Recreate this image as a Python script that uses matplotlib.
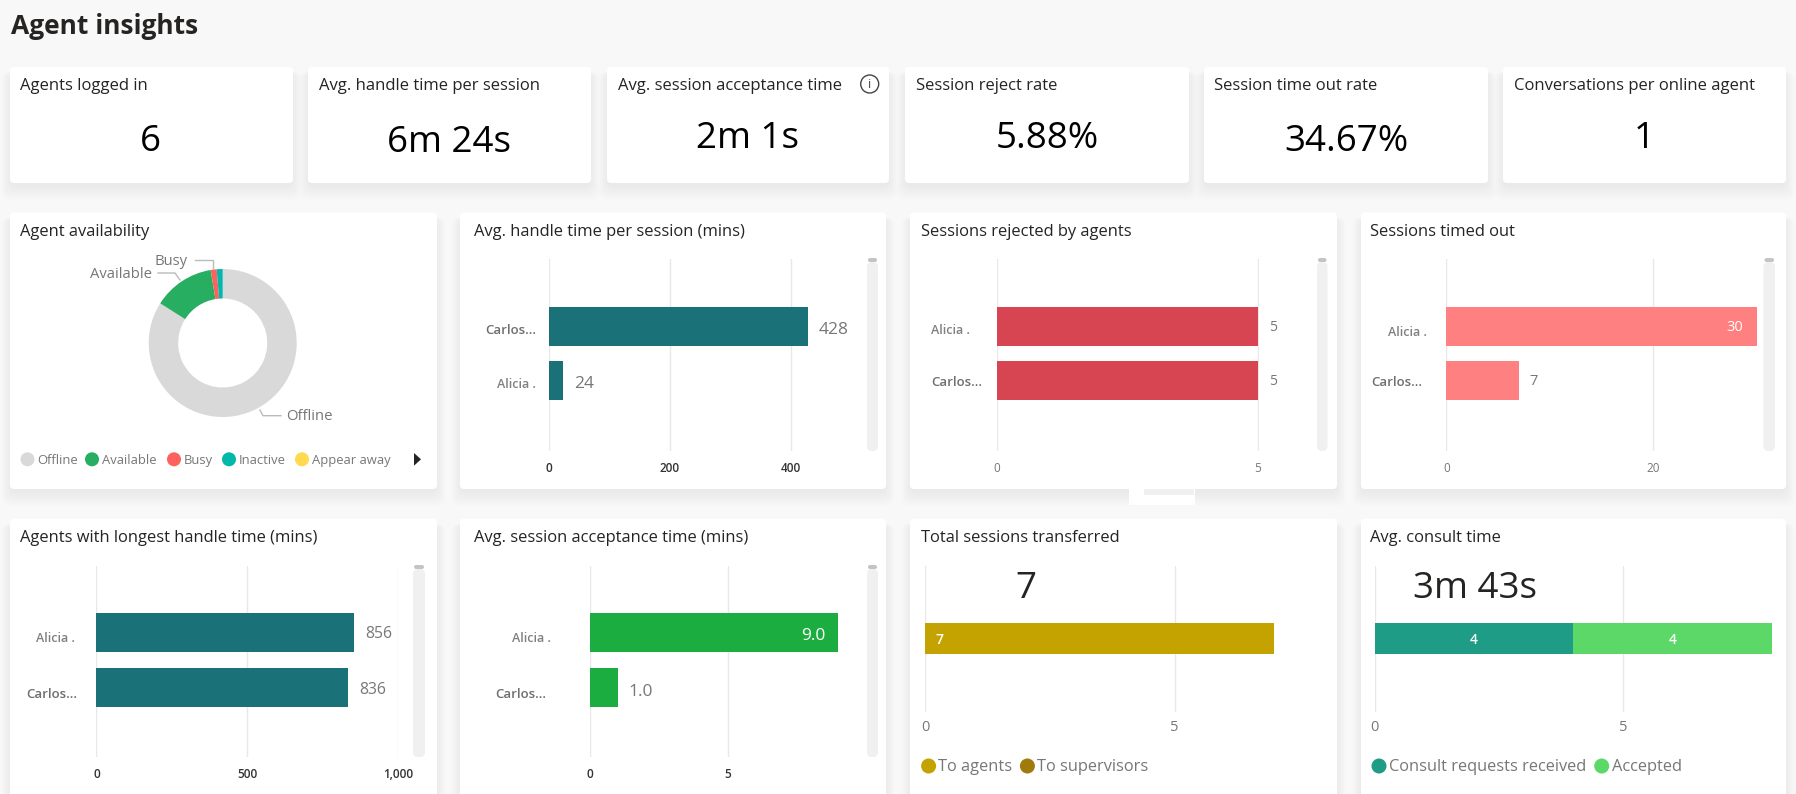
import matplotlib
matplotlib.use("Agg")
import matplotlib.pyplot as plt
from matplotlib.patches import FancyBboxPatch, Circle, Rectangle, Polygon
from matplotlib.transforms import ScaledTranslation

W, H = 1796, 794
plt.rcParams['font.family'] = ['Open Sans', 'DejaVu Sans']

# ---- data ----
kpi_titles = ["Agents logged in", "Avg. handle time per session", "Avg. session acceptance time",
              "Session reject rate", "Session time out rate", "Conversations per online agent"]
kpi_values = ["6", "6m 24s", "2m 1s", "5.88%", "34.67%", "1"]

availability_labels = ["Offline", "Available", "Busy", "Inactive", "Appear away"]
availability_values = [84.0, 13.4, 1.3, 1.3, 0.0]

handle_cats = ["Carlos...", "Alicia ."]
handle_vals = [428, 24]
handle_ticks = [0, 200, 400]

rejected_cats = ["Alicia .", "Carlos..."]
rejected_vals = [5, 5]
rejected_ticks = [0, 5]

timedout_cats = ["Alicia .", "Carlos..."]
timedout_vals = [30, 7]
timedout_ticks = [0, 20]

longest_cats = ["Alicia .", "Carlos..."]
longest_vals = [856, 836]
longest_ticks = [0, 500, 1000]

accept_cats = ["Alicia .", "Carlos..."]
accept_vals = [9.0, 1.0]
accept_ticks = [0, 5]

transfer_labels = ["To agents", "To supervisors"]
transfer_vals = [7, 0]
consult_labels = ["Consult requests received", "Accepted"]
consult_vals = [4, 4]
stack_ticks = [0, 5]

# ---- colours ----
BG = "#F8F8F8"
TEAL = "#1A7278"
RED = "#D84552"
SALMON = "#FF8080"
GREEN = "#1CAD41"
DONUT = ["#D9D9D9", "#27AE60", "#FD625E", "#01B8AA", "#FFD94F"]
GOLD = ["#C4A300", "#A07A0B"]
CONS = ["#1F9C85", "#5CD868"]
GRID = "#E8E8E8"
GREY = "#777777"
DARK = "#252423"

fig = plt.figure(figsize=(W / 100, H / 100), dpi=100, facecolor=BG)
bg = fig.add_axes([0, 0, 1, 1], zorder=0)
bg.set_xlim(0, W)
bg.set_ylim(H, 0)
bg.axis("off")


def px_axes(x0, x1, y0, y1, z=2):
    a = fig.add_axes([x0 / W, 1 - y1 / H, (x1 - x0) / W, (y1 - y0) / H], zorder=z)
    a.patch.set_alpha(0)
    return a


def card(x0, y0, x1, y1):
    for i in range(14, 0, -1):
        bg.add_patch(FancyBboxPatch((x0 - i * 0.7 + 1, y0 + 5), x1 - x0 + 1.4 * i - 2, y1 - y0 + i - 2, lw=0,
                                    fc="black", alpha=.0028,
                                    boxstyle="round,pad=0,rounding_size=8", zorder=1))
    bg.add_patch(FancyBboxPatch((x0, y0), x1 - x0, y1 - y0, lw=0, fc="white",
                                boxstyle="round,pad=0,rounding_size=4", zorder=2))


def scrollbar(x0, x1, y0, y1):
    bg.add_patch(FancyBboxPatch((x0, y0 + 3), x1 - x0, y1 - y0 - 3, lw=0, fc="#F0F0F0",
                                boxstyle="round,pad=0,rounding_size=5", zorder=3))
    bg.add_patch(FancyBboxPatch((x0 + 1, y0 - 1), x1 - x0 - 2, 4, lw=0, fc="#C4C4C4",
                                boxstyle="round,pad=0,rounding_size=2", zorder=4))


def bar_panel(x0, pxu, xmax, y0, y1, ystep, yfirst, cats, vals, color, ticks, fmt="{:,}",
              inside=(), tick_color=GREY, tick_bold=False, value_fs=11, value_dy=2,
              label_off=(14, 14), label_dy=(2, 2)):
    a = px_axes(x0, x0 + pxu * xmax, y0, y1)
    a.set_xlim(0, xmax)
    a.set_ylim((y1 - yfirst) / ystep, (y0 - yfirst) / ystep)
    ypos = list(range(len(cats)))
    bars = a.barh(ypos, vals, height=39 / ystep, color=color, zorder=3)
    a.set_xticks(ticks)
    a.set_xticklabels([f"{t:,}" for t in ticks], fontsize=8.5, color=tick_color,
                      fontweight="semibold" if tick_bold else "normal")
    a.tick_params(axis="x", length=0, pad=8)
    a.set_yticks(ypos)
    a.set_yticklabels(cats, fontsize=8)
    a.tick_params(axis="y", length=0)
    for tick, cat, off, dy in zip(a.yaxis.get_major_ticks(), cats, label_off, label_dy):
        tick.set_pad(off * 0.72)
        lab = tick.label1
        if cat.startswith("Carlos"):
            lab.set(fontsize=9.5, fontweight="semibold", color="#6E6E6E")
        else:
            lab.set(fontsize=9, fontweight="semibold", color="#808080")
        lab.set_transform(lab.get_transform() + ScaledTranslation(0, -dy / 100, fig.dpi_scale_trans))
    a.grid(axis="x", color=GRID, lw=1, zorder=0)
    a.set_axisbelow(True)
    for s in a.spines.values():
        s.set_visible(False)
    for i, (b, v) in enumerate(zip(bars, vals)):
        txt = fmt.format(v)
        if i in inside:
            a.annotate(txt, (v, i), xytext=(-13, -value_dy), textcoords="offset pixels", ha="right", va="center",
                       color="white", fontsize=value_fs)
        else:
            a.annotate(txt, (v, i), xytext=(11, -value_dy), textcoords="offset pixels", ha="left", va="center",
                       color=GREY, fontsize=value_fs)
    return a


def stack_panel(x0, pxu, xmax, y0, y1, bar_y0, bar_y1, vals, colors, ticks, inline_center):
    a = px_axes(x0, x0 + pxu * xmax, y0, y1)
    a.set_xlim(0, xmax)
    a.set_ylim(y1, y0)
    left = 0
    for v, c in zip(vals, colors):
        if v == 0:
            continue
        a.barh((bar_y0 + bar_y1) / 2, v, left=left, height=bar_y1 - bar_y0, color=c, zorder=3)
        if inline_center:
            a.text(left + v / 2, (bar_y0 + bar_y1) / 2 + 1, str(v), color="white", ha="center", va="center",
                   fontsize=10, fontweight="semibold", zorder=4)
        else:
            a.annotate(str(v), (left, (bar_y0 + bar_y1) / 2 + 1), xytext=(11, 0), textcoords="offset pixels",
                       color="white", ha="left", va="center", fontsize=10, fontweight="semibold", zorder=4)
        left += v
    a.set_xticks(ticks)
    a.set_xticklabels([str(t) for t in ticks], fontsize=10.5, color=GREY)
    a.tick_params(axis="x", length=0, pad=6)
    a.set_yticks([])
    a.grid(axis="x", color=GRID, lw=1, zorder=0)
    a.set_axisbelow(True)
    for s in a.spines.values():
        s.set_visible(False)
    return a


def legend_row(dot_xs, text_xs, y, labels, colors, fs, r):
    for dx, tx, lab, c in zip(dot_xs, text_xs, labels, colors):
        bg.add_patch(Circle((dx, y), r, fc=c, lw=0, zorder=4))
        bg.text(tx, y + 1, lab, color=GREY, fontsize=fs, ha="left", va="center", zorder=5)


# ---- title ----
bg.text(11, 26, "Agent insights", fontsize=19, fontweight="bold", color=DARK, ha="left", va="center")

# ---- KPI cards ----
kpi_x = [(10, 293), (308, 591), (607, 889), (905, 1189), (1204, 1488), (1503, 1786)]
kpi_title_x = [20.5, 319, 617.7, 916, 1214, 1514]
kpi_val_x = [150, 449, 747.5, 1047.4, 1346, 1644.6]
kpi_val_y = [142, 142.5, 139, 139, 142, 138.5]
for (x0, x1), tx, vx, vy, t, v in zip(kpi_x, kpi_title_x, kpi_val_x, kpi_val_y, kpi_titles, kpi_values):
    card(x0, 67, x1, 183)
    bg.text(tx, 85.5, t, fontsize=12, color=DARK, ha="left", va="center", zorder=5)
    bg.text(vx, vy, v, fontsize=26.5, color="black", ha="center", va="center", zorder=5)
bg.add_patch(Circle((869.7, 84), 9, fc="white", ec="#444444", lw=1, zorder=5))
bg.text(869.7, 84.5, "i", fontsize=9, color="#444444", ha="center", va="center", zorder=6)

# ---- chart cards ----
row2 = [(10, 437), (460, 886), (910, 1337), (1361, 1786)]
row3 = [(10, 437), (460, 886), (910, 1337), (1361, 1786)]
titles2 = ["Agent availability", "Avg. handle time per session (mins)", "Sessions rejected by agents", "Sessions timed out"]
titles3 = ["Agents with longest handle time (mins)", "Avg. session acceptance time (mins)", "Total sessions transferred", "Avg. consult time"]
title_x = [20.5, 473.6, 920.6, 1370.3]
for (x0, x1), tx, t in zip(row2, title_x, titles2):
    card(x0, 212.5, x1, 489)
    bg.text(tx, 231.5, t, fontsize=11.9, color=DARK, ha="left", va="center", zorder=5)
for (x0, x1), tx, t in zip(row3, title_x, titles3):
    card(x0, 518.7, x1, 815)
    bg.text(tx, 538.5, t, fontsize=11.9, color=DARK, ha="left", va="center", zorder=5)

# stray white fragment between rows
bg.add_patch(Rectangle((1129, 489), 66, 16, fc="white", lw=0, zorder=3))
bg.add_patch(Rectangle((1144, 489), 50, 6, fc="#F0F0F0", lw=0, zorder=3))

# ---- donut ----
cx, cy, R = 222.7, 343, 74
d = px_axes(cx - R, cx + R, cy - R, cy + R)
d.pie(availability_values, colors=DONUT, startangle=90, counterclock=False, radius=1,
      wedgeprops=dict(width=1 - 44.5 / 74, lw=0))
d.set_xlim(-1, 1)
d.set_ylim(-1, 1)
d.set_position([(cx - R) / W, 1 - (cy + R) / H, 2 * R / W, 2 * R / H])
LEAD = "#BBBBBB"
bg.plot([195, 213, 213], [260, 260, 267.7], color=LEAD, lw=1, zorder=5)
bg.plot([158, 175, 180], [273, 273, 280], color=LEAD, lw=1, zorder=5)
bg.plot([260, 263, 281], [410, 415.7, 415.7], color=LEAD, lw=1, zorder=5)
bg.text(188, 261.5, availability_labels[2], fontsize=10.7, color=GREY, ha="right", va="center", zorder=5)
bg.text(151.5, 274.5, availability_labels[1], fontsize=10.7, color=GREY, ha="right", va="center", zorder=5)
bg.text(286.5, 417, availability_labels[0], fontsize=10.7, color=GREY, ha="left", va="center", zorder=5)
legend_row([27.5, 92, 174, 229, 302], [37.3, 102, 183.7, 238.8, 311.7], 459.3, availability_labels, DONUT, 9.4, 7)
bg.add_patch(Polygon([(414, 453), (421, 459.3), (414, 465.7)], fc="#252423", lw=0, zorder=5))

# ---- bar panels ----
bar_panel(548.8, 0.605, 520, 259, 451, 54, 326.5, handle_cats, handle_vals, TEAL, handle_ticks,
          tick_color="#333333", tick_bold=True, value_fs=12.5, value_dy=4, label_off=(13, 13), label_dy=(3, 2))
scrollbar(867, 878, 259, 451)

bar_panel(996.6, 52.2, 5.02, 259, 451, 54, 326.5, rejected_cats, rejected_vals, RED, rejected_ticks,
          value_fs=10, value_dy=1, label_off=(26.6, 14.6), label_dy=(3, 1))
scrollbar(1317, 1327.5, 259, 451)

bar_panel(1446.3, 10.34, 31, 259, 451, 54, 326.5, timedout_cats, timedout_vals, SALMON, timedout_ticks,
          inside=(0,), value_dy=1, value_fs=10.5, label_off=(19, 24), label_dy=(4, 1))
scrollbar(1763.5, 1775, 259, 451)

bar_panel(96.4, 0.3014, 1002, 566, 757, 55, 632.5, longest_cats, longest_vals, TEAL, longest_ticks,
          tick_color="#333333", tick_bold=True, value_fs=11.3, value_dy=2, label_off=(22, 19), label_dy=(5, 5))
scrollbar(413, 425, 566, 757)

bar_panel(590, 27.6, 9.2, 566, 757, 55, 632.5, accept_cats, accept_vals, GREEN, accept_ticks, fmt="{:.1f}",
          inside=(0,), tick_color="#333333", tick_bold=True, value_fs=12.5, value_dy=4,
          label_off=(39.5, 44), label_dy=(5, 5))
scrollbar(867, 878, 566, 757)

# ---- stacked panels ----
stack_panel(925, 49.9, 7.1, 566, 711.7, 623, 654, transfer_vals, GOLD, stack_ticks, False)
bg.text(1025.7, 589.5, str(sum(transfer_vals)), fontsize=26.5, color=DARK, ha="center", va="center", zorder=5)
legend_row([928.6, 1027.4], [938, 1037], 766, transfer_labels, GOLD, 11.8, 7.5)

stack_panel(1374.9, 49.6, 8.05, 566, 711.7, 623, 654, consult_vals, CONS, stack_ticks, True)
bg.text(1475, 589.5, "3m 43s", fontsize=26.5, color=DARK, ha="center", va="center", zorder=5)
legend_row([1379, 1601.7], [1388.6, 1612], 766, consult_labels, CONS, 11.8, 7.5)

fig.savefig("out.png", dpi=100, facecolor=BG)
